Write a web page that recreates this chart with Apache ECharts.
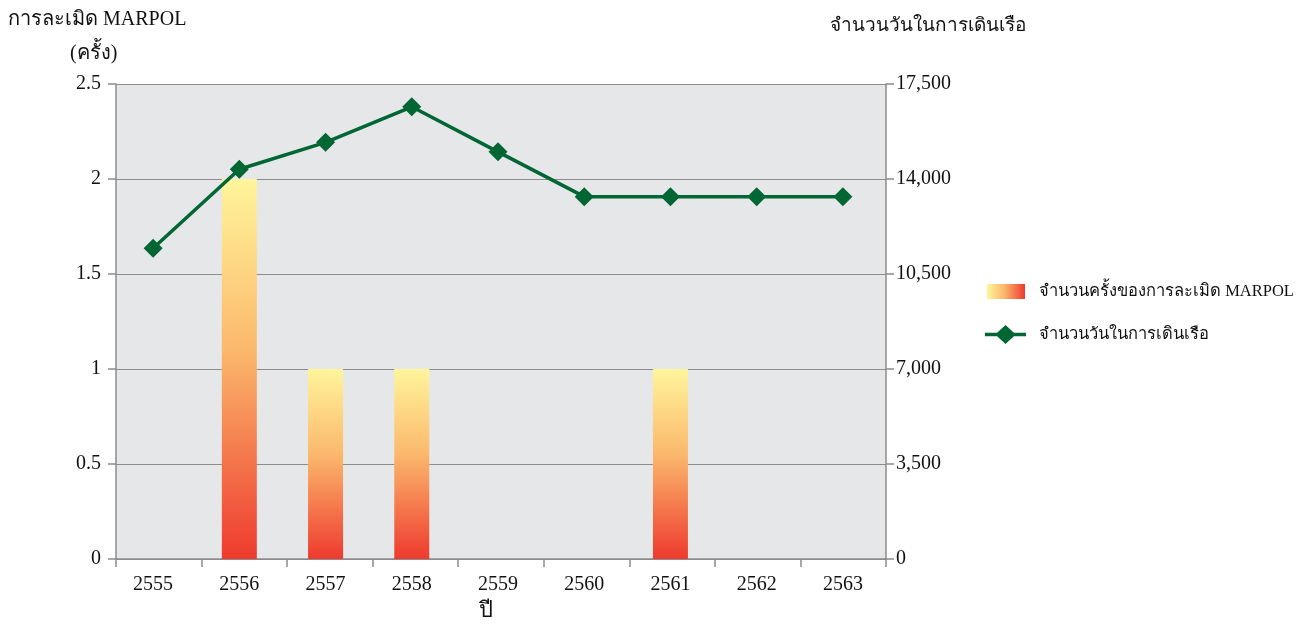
<!DOCTYPE html>
<html>
<head>
<meta charset="utf-8">
<script src="https://cdn.jsdelivr.net/npm/echarts@6/dist/echarts.min.js"></script>
<style>
  html, body { margin: 0; padding: 0; background: #fff; }
  #chart { width: 1306px; height: 626px; }
</style>
</head>
<body>
<div id="chart"></div>
<script>
// ข้อมูล
const years = ['2555', '2556', '2557', '2558', '2559', '2560', '2561', '2562', '2563']
const violations = [0, 2, 1, 1, 0, 0, 1, 0, 0]
const sailingDays = [11450, 14360, 15350, 16660, 15000, 13350, 13350, 13350, 13350]

const barName = 'จำนวนครั้งของการละเมิด MARPOL'
const lineName = 'จำนวนวันในการเดินเรือ'

const font = '"Liberation Serif", "Times New Roman", serif'
const axisGray = '#8c8c8c'
const textColor = '#111'
const green = '#006633'

const chart = echarts.init(document.getElementById('chart'))

const gradStops = [
  { offset: 0, color: '#fff59b' },
  { offset: 0.45, color: '#fbb86c' },
  { offset: 1, color: '#ee3a2e' }
]
const barGradient = new echarts.graphic.LinearGradient(0, 0, 0, 1, gradStops)
const legendGradient = new echarts.graphic.LinearGradient(0, 0, 1, 0, gradStops)

// ไอคอนเส้น + ข้าวหลามตัด สำหรับ legend
const lineDiamondIcon = 'path://M0,8.2 L11.8,8.2 L20,0 L28.2,8.2 L40,8.2 L40,11.8 L28.2,11.8 L20,20 L11.8,11.8 L0,11.8 Z'

const legendText = { fontFamily: font, fontSize: 16.5, color: textColor }

// grid 0 = พื้นหลัง แกน เส้นตาราง / grid 1 = ข้อมูลจริง (เลื่อนซ้ายเล็กน้อยเหมือนต้นฉบับ)
const option = {
  animation: false,
  textStyle: { fontFamily: font, color: textColor },
  grid: [
    {
      left: 116, right: 420, top: 84, bottom: 67,
      show: true, backgroundColor: '#e6e7e9', borderWidth: 0,
      outerBoundsMode: 'none', containLabel: false
    },
    {
      left: 110, right: 420, top: 84, bottom: 67,
      show: false, outerBoundsMode: 'none', containLabel: false
    }
  ],
  legend: [
    {
      left: 982,
      top: 278,
      itemWidth: 38,
      itemHeight: 15,
      textStyle: Object.assign({ padding: [0, 0, 0, 9] }, legendText),
      data: [{ name: barName, icon: 'rect', itemStyle: { color: legendGradient } }]
    },
    {
      left: 980,
      top: 320,
      itemWidth: 41,
      itemHeight: 19,
      symbolKeepAspect: false,
      textStyle: Object.assign({ padding: [0, 0, 0, 8] }, legendText),
      data: [{ name: lineName, icon: lineDiamondIcon, itemStyle: { color: green } }]
    }
  ],
  xAxis: [
    {
      gridIndex: 0,
      type: 'category',
      data: years,
      axisLine: { lineStyle: { color: axisGray, width: 1.5 } },
      axisTick: { show: true, length: 8, lineStyle: { color: axisGray, width: 1.5 } },
      axisLabel: { show: false }
    },
    {
      gridIndex: 1,
      type: 'category',
      data: years,
      axisLine: { show: false },
      axisTick: { show: false },
      axisLabel: { fontFamily: font, fontSize: 20, color: textColor, margin: 16 }
    }
  ],
  yAxis: [
    {
      gridIndex: 0,
      type: 'value',
      min: 0, max: 2.5, interval: 0.5,
      position: 'left',
      axisLine: { show: true, lineStyle: { color: axisGray, width: 1.5 } },
      axisTick: { show: true, length: 8, lineStyle: { color: axisGray, width: 1.5 } },
      axisLabel: { fontFamily: font, fontSize: 20, color: textColor, margin: 15 },
      splitLine: { lineStyle: { color: axisGray, width: 1.2 } }
    },
    {
      gridIndex: 0,
      type: 'value',
      min: 0, max: 17500, interval: 3500,
      position: 'right',
      axisLine: { show: true, lineStyle: { color: axisGray, width: 1.5 } },
      axisTick: { show: true, length: 8, lineStyle: { color: axisGray, width: 1.5 } },
      axisLabel: {
        fontFamily: font, fontSize: 20, color: textColor, margin: 10,
        formatter: v => v.toLocaleString('en-US')
      },
      splitLine: { show: false }
    },
    {
      gridIndex: 1, type: 'value', min: 0, max: 2.5, show: false
    },
    {
      gridIndex: 1, type: 'value', min: 0, max: 17500, show: false
    }
  ],
  graphic: [
    {
      type: 'text', left: 8, top: 10,
      style: { text: 'การละเมิด MARPOL', font: '20px ' + font, fill: textColor }
    },
    {
      type: 'text', left: 70, top: 44,
      style: { text: '(ครั้ง)', font: '20px ' + font, fill: textColor }
    },
    {
      type: 'text', left: 830, top: 17,
      style: { text: lineName, font: '19px ' + font, fill: textColor }
    },
    {
      type: 'text', left: 479, top: 600,
      style: { text: 'ปี', font: '22px ' + font, fill: textColor }
    }
  ],
  series: [
    {
      name: barName,
      type: 'bar',
      xAxisIndex: 1,
      yAxisIndex: 2,
      barWidth: 35,
      data: violations,
      itemStyle: { color: barGradient }
    },
    {
      name: lineName,
      type: 'line',
      xAxisIndex: 1,
      yAxisIndex: 3,
      data: sailingDays,
      symbol: 'diamond',
      symbolSize: 19,
      lineStyle: { color: green, width: 3.5 },
      itemStyle: { color: green }
    }
  ]
}

chart.setOption(option)
</script>
</body>
</html>
